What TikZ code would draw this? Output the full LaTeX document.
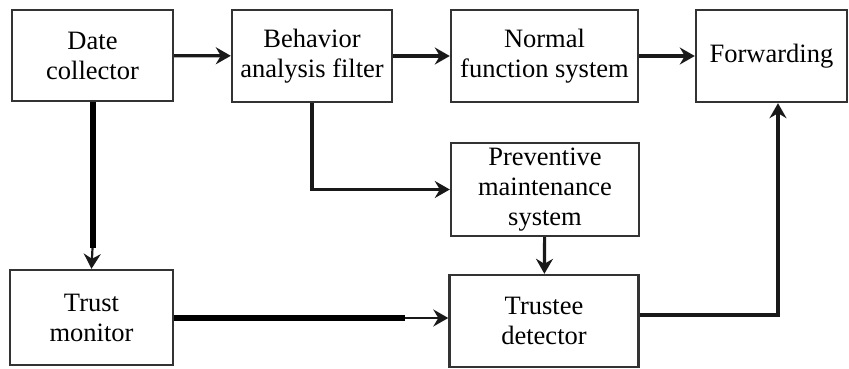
\documentclass[tikz,border=0pt]{standalone}
\usepackage{fontspec}
\setmainfont{Liberation Serif}
\usetikzlibrary{arrows.meta, positioning, calc}

\begin{document}
\begin{tikzpicture}[
    x=1pt, y=-1pt,
    block/.style={draw=black!80, line width=2.4pt, align=center, inner sep=0pt,
        font=\fontsize{26.5}{30}\selectfont},
    arrow/.style={-{Stealth[length=15pt, width=17pt, inset=5pt]}, line width=3.2pt, black!90},
    thinarrow/.style={-{Stealth[length=15pt, width=17pt, inset=5pt]}, line width=2.2pt, black!90},
    heavy/.style={line width=6pt, black}
]
\useasboundingbox (0,0) rectangle (849,369);

\node[block, minimum width=161pt, minimum height=91pt] (dc) at (92.5,55.5) {Date\\collector};
\node[block, minimum width=160pt, minimum height=92pt] (baf) at (312,56) {Behavior\\analysis filter};
\node[block, minimum width=187pt, minimum height=92pt] (nfs) at (544.5,56) {Normal\\function system};
\node[block, minimum width=151pt, minimum height=92pt] (fwd) at (771.5,56) {\raisebox{-8pt}{Forwarding}};
\node[block, minimum width=188pt, minimum height=93pt] (pms) at (545,189.5) {Preventive\\maintenance\\system};
\node[block, minimum width=189pt, minimum height=92pt] (td) at (544,321) {Trustee\\detector};
\node[block, minimum width=163pt, minimum height=95pt] (tm) at (91.5,317.5) {Trust\\monitor};

\coordinate (dcmid) at (92.5,248);
\coordinate (tmmid) at (405,318);

\draw[arrow] (dc) -- (baf);
\draw[arrow] (baf) -- (nfs);
\draw[arrow] (nfs) -- (fwd);
\draw[arrow] (baf.south) |- (pms.west);
\draw[arrow] (pms) -- (td);
\draw[heavy] (dc.south) -- (dcmid);
\draw[thinarrow] (dcmid) -- (tm.north);
\draw[heavy] (tm.east |- tmmid) -- (tmmid);
\draw[thinarrow] (tmmid) -- (tmmid -| td.west);
\draw[arrow] (td.east |- 0,315) -| ([xshift=6.5pt]fwd.south);
\end{tikzpicture}
\end{document}
